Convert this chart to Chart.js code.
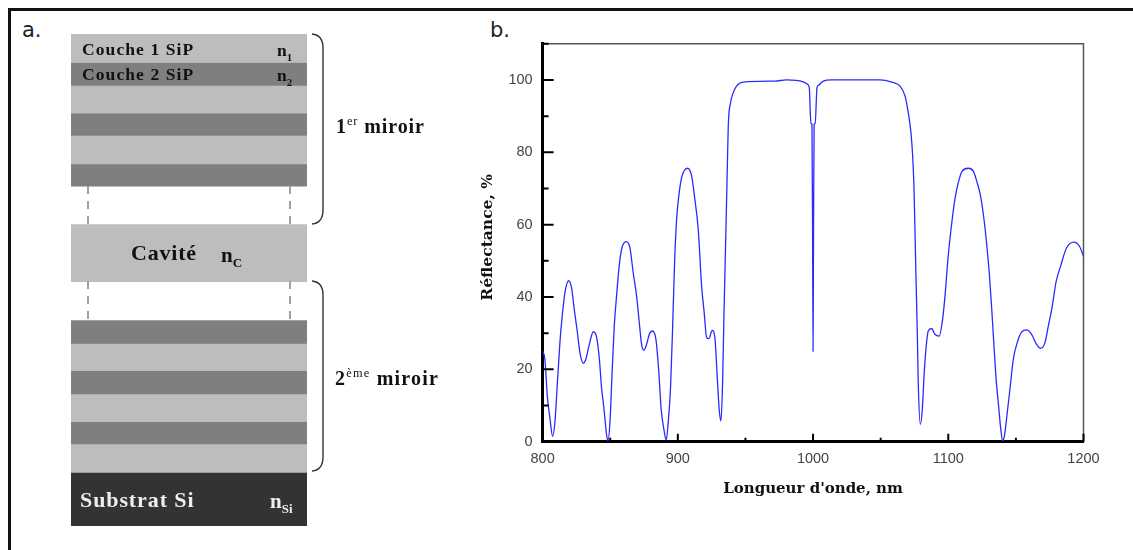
<!DOCTYPE html>
<html lang="fr">
<head>
<meta charset="utf-8">
<title>Réflectance</title>
<script src="https://cdn.jsdelivr.net/npm/chart.js@4"></script>
<style>
  html, body { margin: 0; padding: 0; background: #fff; }
  #page { position: relative; width: 1133px; height: 550px; overflow: hidden; }
  #frame-top { position: absolute; left: 8px; top: 8px; right: 0; height: 3px; background: #111; }
  #frame-left { position: absolute; left: 8px; top: 8px; bottom: 0; width: 3px; background: #111; }
  #stack-box { position: absolute; left: 71px; top: 33.5px; width: 236px; height: 492px; }
  #curve-box { position: absolute; left: 470px; top: 0; width: 663px; height: 550px; }
  #marks { position: absolute; left: 0; top: 0; }
  .lbl { position: absolute; white-space: nowrap; font-family: "Liberation Serif", serif; font-weight: bold; color: #111; line-height: 1; }
  .lbl sub, .lbl sup { line-height: 0; font-size: 62%; }
  .lbl sup { font-weight: normal; }
  .panel { position: absolute; font-family: "DejaVu Sans", sans-serif; font-size: 21px; color: #222; line-height: 1; }
</style>
</head>
<body>
<div id="page">
  <div id="frame-top"></div>
  <div id="frame-left"></div>
  <div class="panel" style="left:22px;top:20px">a.</div>
  <div class="panel" style="left:490px;top:20px">b.</div>

  <div id="stack-box"><canvas id="stack"></canvas></div>
  <div id="curve-box"><canvas id="curve"></canvas></div>

  <svg id="marks" width="1133" height="550" fill="none">
    <g stroke="#a0a0a0" stroke-width="2" stroke-dasharray="8 7">
      <path d="M88 186V224M290 186V224M88 281V320M290 281V320"/>
    </g>
    <g stroke="#333" stroke-width="1.4">
      <path d="M312 34Q323 35 323 48V210Q323 223 312 224"/>
      <path d="M312 281Q323 282 323 295V457Q323 470 312 471"/>
    </g>
  </svg>

  <div class="lbl" style="left:82px;top:41px;font-size:17.5px;letter-spacing:1.1px">Couche 1 SiP</div>
  <div class="lbl" style="left:277px;top:42px;font-size:17.5px">n<sub>1</sub></div>
  <div class="lbl" style="left:82px;top:66px;font-size:17.5px;letter-spacing:1.1px">Couche 2 SiP</div>
  <div class="lbl" style="left:277px;top:67px;font-size:17.5px">n<sub>2</sub></div>
  <div class="lbl" style="left:131px;top:242px;font-size:22px;letter-spacing:.8px">Cavité</div>
  <div class="lbl" style="left:221px;top:245px;font-size:21px">n<sub>C</sub></div>
  <div class="lbl" style="left:80px;top:489px;font-size:22px;letter-spacing:.9px;color:#eee">Substrat Si</div>
  <div class="lbl" style="left:270px;top:491px;font-size:21px;color:#eee">n<sub>Si</sub></div>
  <div class="lbl" style="left:336px;top:116px;font-size:20px;letter-spacing:.9px">1<sup>er</sup> miroir</div>
  <div class="lbl" style="left:335px;top:368px;font-size:20px;letter-spacing:1.2px">2<sup>ème</sup> miroir</div>
</div>

<script>
// layer stack, top to bottom (thickness in arbitrary units, 0 colour = gap)
const layerNames = ['c1', 'c2', 'c1', 'c2', 'c1', 'c2', 'gap', 'cavite', 'gap', 'c2', 'c1', 'c2', 'c1', 'c2', 'c1', 'substrat'];
const layerThickness = [28.5, 23, 27.7, 22.3, 28.3, 22.4, 38.3, 57, 39, 22.7, 27.3, 23.3, 27.7, 22.3, 28.4, 53.6];
const layerColors = { c1: '#bdbdbd', c2: '#7f7f7f', gap: 'rgba(0,0,0,0)', cavite: '#bdbdbd', substrat: '#333333' };

// reflectance curve
const wavelengths = [
  800, 801.7, 803.5, 805.4, 807.4, 809.1, 810.8, 812.8, 814.5, 816.5, 819.2, 821.4, 823.4, 825.6, 827.6, 830, 832, 834.3,
  837.5, 840, 842, 843.6, 845.3, 847.3, 848.3, 849.8, 851.3, 853, 854.7, 856.4, 858.4, 861.9, 864.6, 867, 869.5, 871.5,
  873.2, 874.9, 876.9, 878.9, 881.3, 883.8, 885.8, 887.7, 889.7, 891.4, 892.9, 894.6, 896.1, 897.6, 899.1, 901, 902.8, 904.7,
  907.2, 910.2, 912.6, 915.1, 917.6, 919.5, 921.3, 923, 925.4, 927.4, 929.1, 930.6, 931.9, 933.1, 934.1, 935.3, 936.3,
  937.3, 939, 941, 943.4, 948.4, 971.8, 980.4, 992.7, 995.9, 997.2, 998.4, 999.2, 999.7, 1000, 1000.3, 1000.8, 1001.6,
  1002.9, 1003.9, 1007.6, 1013.7, 1049.5, 1058.1, 1064.3, 1068, 1070.4, 1072.4, 1073.6, 1074.6, 1075.3, 1076.1, 1077.1, 1077.8,
  1079.3, 1080.8, 1082.2, 1083.7, 1085.2, 1087.7, 1090.1, 1093.3, 1095.8, 1097.8, 1099.5, 1101.2, 1103.2, 1104.9, 1107.4,
  1110.3, 1114.8, 1118.5, 1121.4, 1123.9, 1126.4, 1128.3, 1130.3, 1132, 1133.8, 1135.2, 1137.2, 1138.7, 1140.2, 1141.7,
  1143.6, 1145.6, 1148.1, 1151, 1154.2, 1157.9, 1161.6, 1165.3, 1168.3, 1171.5, 1174, 1176.9, 1179.6, 1183.1, 1187.5,
  1192.9, 1196.9, 1200
];
const reflectance = [
  25, 22.8, 12.6, 6.6, 1.5, 5.3, 15.4, 27.4, 34.7, 41.2, 44.5, 42.6, 36.6, 30.6, 24.6, 21.7, 22.8, 26.5,
  30.4, 28.8, 22.8, 14.9, 9.4, 2, 0.2, 5.3, 18.2, 32, 40.3, 47.7, 53.2, 55.3, 53.6, 46.7, 40.3, 32.9,
  26.9, 25.3, 26.9, 29.7, 30.6, 28.3, 20, 8.9, 3.4, 0.5, 5.3, 14.9, 31, 49.5, 61.5, 68.8, 73, 74.9,
  75.6, 73.5, 67, 58.7, 43, 35.7, 28.8, 28.5, 30.8, 28.8, 18.2, 8.9, 5.7, 16.3, 34.7, 54.1, 70.7,
  87.3, 93.7, 96.5, 98.3, 99.4, 99.7, 100, 99.5, 98.8, 97.9, 88, 87.7, 53.6, 25, 53.6, 87.7, 88,
  97.9, 98.5, 99.7, 100, 100, 99.4, 98.3, 95.6, 91, 85.4, 79.4, 70.7, 59.6, 45.8, 30.1, 16.3,
  4.8, 8.9, 19, 26.5, 30.6, 31.3, 29.7, 29.2, 33.8, 41.2, 49.5, 55.9, 62.4, 67, 71.6,
  74.8, 75.6, 74.8, 71.6, 67.9, 61.5, 55, 46.7, 37.5, 26.5, 18.2, 9.9, 3.9, 0.2, 2,
  8, 14.5, 22.8, 27.4, 30.3, 30.9, 29.7, 26.9, 25.8, 27.4, 32, 37.5, 44, 48.6, 53.6,
  55.2, 54.1, 51.3
];
const xMajorTicks = [800, 900, 1000, 1100, 1200];
const xMinorTicks = [850, 950, 1050, 1150];
const yMajorTicks = [0, 20, 40, 60, 80, 100];
const yMinorTicks = [10, 30, 50, 70, 90, 110];

new Chart(document.getElementById('stack'), {
  type: 'bar',
  data: {
    labels: ['empilement'],
    datasets: layerThickness.map(function (t, i) {
      return { label: layerNames[i], data: [t], backgroundColor: layerColors[layerNames[i]], borderWidth: 0 };
    })
  },
  options: {
    animation: false,
    responsive: true,
    maintainAspectRatio: false,
    datasets: { bar: { barPercentage: 1, categoryPercentage: 1 } },
    plugins: { legend: { display: false }, tooltip: { enabled: false } },
    scales: {
      x: { stacked: true, display: false },
      y: { stacked: true, display: false, reverse: true, min: 0, max: 491.8 }
    }
  }
});

// inward ticks with two lengths plus the thin top and right edges
const inwardTicks = {
  id: 'inwardTicks',
  afterDraw: function (chart) {
    const ctx = chart.ctx, area = chart.chartArea, sx = chart.scales.x, sy = chart.scales.y;
    ctx.save();
    ctx.strokeStyle = '#555';
    ctx.lineWidth = 1.5;
    ctx.beginPath();
    ctx.moveTo(area.left, area.top);
    ctx.lineTo(area.right, area.top);
    ctx.lineTo(area.right, area.bottom);
    ctx.stroke();
    ctx.strokeStyle = '#000';
    ctx.lineWidth = 2;
    ctx.beginPath();
    yMajorTicks.forEach(function (v) { ctx.moveTo(area.left, sy.getPixelForValue(v)); ctx.lineTo(area.left + 11, sy.getPixelForValue(v)); });
    yMinorTicks.forEach(function (v) { ctx.moveTo(area.left, sy.getPixelForValue(v)); ctx.lineTo(area.left + 6, sy.getPixelForValue(v)); });
    xMajorTicks.forEach(function (v) { ctx.moveTo(sx.getPixelForValue(v), area.bottom); ctx.lineTo(sx.getPixelForValue(v), area.bottom - 8); });
    xMinorTicks.forEach(function (v) { ctx.moveTo(sx.getPixelForValue(v), area.bottom); ctx.lineTo(sx.getPixelForValue(v), area.bottom - 4); });
    ctx.stroke();
    ctx.restore();
  }
};

function plainTick(value) { return String(value); }

new Chart(document.getElementById('curve'), {
  type: 'line',
  data: {
    datasets: [{
      data: wavelengths.map(function (w, i) { return { x: w, y: reflectance[i] }; }),
      borderColor: '#2a2aff',
      borderWidth: 1.3,
      pointRadius: 0,
      cubicInterpolationMode: 'monotone'
    }]
  },
  options: {
    animation: false,
    responsive: true,
    maintainAspectRatio: false,
    layout: { padding: { left: 0, top: 43.8, right: 49.5, bottom: 48.3 } },
    plugins: { legend: { display: false }, tooltip: { enabled: false } },
    scales: {
      x: {
        type: 'linear', min: 800, max: 1200,
        afterFit: function (scale) { scale.height = 60; },
        grid: { display: false },
        border: { color: '#000', width: 3 },
        afterBuildTicks: function (scale) { scale.ticks = xMajorTicks.map(function (v) { return { value: v }; }); },
        ticks: { color: '#444', font: { family: '"Liberation Sans"', size: 14.5 }, padding: 1, maxRotation: 0, callback: plainTick },
        title: {
          display: true, text: "Longueur d'onde, nm", color: '#111',
          font: { family: '"DejaVu Serif"', size: 15, weight: 'bold' }, padding: { top: 12 }
        }
      },
      y: {
        min: 0, max: 110,
        afterFit: function (scale) { scale.width = 72.6; },
        grid: { display: false },
        border: { color: '#000', width: 3 },
        afterBuildTicks: function (scale) { scale.ticks = yMajorTicks.map(function (v) { return { value: v }; }); },
        ticks: { color: '#444', font: { family: '"Liberation Sans"', size: 14.5 }, padding: 2, callback: plainTick },
        title: {
          display: true, text: '\u00a0\u00a0Réflectance, %', color: '#111',
          font: { family: '"DejaVu Serif"', size: 15.5, weight: 'bold' }, padding: { top: 9, bottom: 0 }
        }
      }
    }
  },
  plugins: [inwardTicks]
});
</script>
</body>
</html>
